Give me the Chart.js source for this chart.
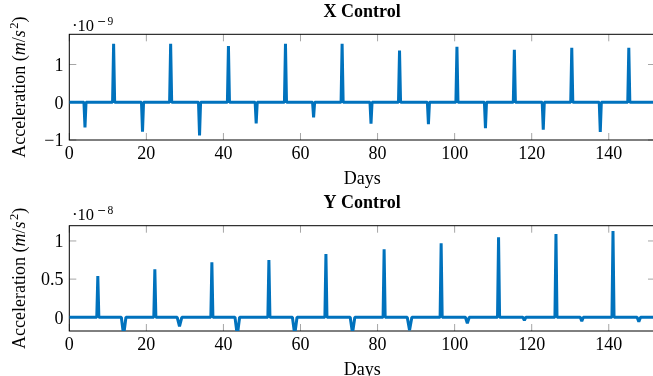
<!DOCTYPE html>
<html>
<head>
<meta charset="utf-8">
<script src="https://cdn.jsdelivr.net/npm/chart.js@4/dist/chart.umd.min.js"></script>
<style>
  html, body { margin: 0; padding: 0; background: #fff; overflow: hidden; }
  #wrap { position: relative; width: 653px; height: 376px; overflow: hidden; background: #fff; }
  canvas { position: absolute; left: 0; }
  #c1 { top: 0; }
  #c2 { top: 188px; }
</style>
</head>
<body>
<div id="wrap">
  <canvas id="c1" width="660" height="188"></canvas>
  <canvas id="c2" width="660" height="188"></canvas>
</div>
<script>
// ---- Data ----
// X control acceleration, units of 1e-9 m/s^2
const daysX = [0,
  3.8, 4.07, 4.34,
  11.23, 11.5, 11.77,
  18.73, 19.0, 19.27,
  26.03, 26.3, 26.57,
  33.53, 33.8, 34.07,
  41.03, 41.3, 41.57,
  48.23, 48.5, 48.77,
  55.83, 56.1, 56.37,
  63.13, 63.4, 63.67,
  70.53, 70.8, 71.07,
  78.03, 78.3, 78.57,
  85.43, 85.7, 85.97,
  92.93, 93.2, 93.47,
  100.33, 100.6, 100.87,
  107.73, 108.0, 108.27,
  115.23, 115.5, 115.77,
  122.73, 123.0, 123.27,
  130.13, 130.4, 130.67,
  137.53, 137.8, 138.07,
  144.93, 145.2, 145.47,
  152];
const accelX = [0,
  0, -0.67, 0,
  0, 1.55, 0,
  0, -0.78, 0,
  0, 1.55, 0,
  0, -0.88, 0,
  0, 1.49, 0,
  0, -0.56, 0,
  0, 1.55, 0,
  0, -0.40, 0,
  0, 1.55, 0,
  0, -0.57, 0,
  0, 1.37, 0,
  0, -0.58, 0,
  0, 1.47, 0,
  0, -0.69, 0,
  0, 1.39, 0,
  0, -0.73, 0,
  0, 1.44, 0,
  0, -0.79, 0,
  0, 1.44, 0,
  0];

// Y control acceleration, units of 1e-8 m/s^2
const daysY = [0,
  7.13, 7.4, 7.67,
  13.5, 14.1, 14.7,
  21.93, 22.2, 22.47,
  28.0, 28.6, 29.2,
  36.73, 37.0, 37.27,
  43.0, 43.6, 44.2,
  51.53, 51.8, 52.07,
  57.9, 58.5, 59.1,
  66.33, 66.6, 66.87,
  72.9, 73.5, 74.1,
  81.43, 81.7, 81.97,
  87.7, 88.3, 88.9,
  96.23, 96.5, 96.77,
  102.8, 103.3, 103.8,
  111.13, 111.4, 111.67,
  117.7, 118.1, 118.5,
  126.03, 126.3, 126.57,
  132.6, 133.0, 133.4,
  140.83, 141.1, 141.37,
  147.35, 147.8, 148.25,
  152];
const accelY = [0,
  0, 0.54, 0,
  0, -0.24, 0,
  0, 0.63, 0,
  0, -0.12, 0,
  0, 0.72, 0,
  0, -0.24, 0,
  0, 0.75, 0,
  0, -0.23, 0,
  0, 0.83, 0,
  0, -0.21, 0,
  0, 0.89, 0,
  0, -0.17, 0,
  0, 0.97, 0,
  0, -0.08, 0,
  0, 1.05, 0,
  0, -0.04, 0,
  0, 1.09, 0,
  0, -0.05, 0,
  0, 1.13, 0,
  0, -0.06, 0,
  0];

const dayTicks = [0, 20, 40, 60, 80, 100, 120, 140];
const accelXTicks = [-1, 0, 1];
const accelYTicks = [0, 0.5, 1];
const titles = ['X Control', 'Y Control'];
const exponentDigits = ['9', '8'];

// ---- Drawing helpers ----
const SERIF = '"Liberation Serif", "Times New Roman", serif';
const BLUE = 'rgb(0,114,189)';

function fmt(v) {
  const s = String(v);
  return v < 0 ? '\u2212' + s.slice(1) : s;
}

const pgfAxes = {
  id: 'pgfAxes',
  beforeDatasetsDraw(chart) {
    const { ctx, chartArea: a, scales: { x, y } } = chart;
    ctx.save();
    ctx.strokeStyle = '#a6a6a6';
    ctx.lineWidth = 1;
    ctx.beginPath();
    const tl = 7;
    x.ticks.forEach(t => {
      const px = x.getPixelForValue(t.value);
      ctx.moveTo(px, a.top); ctx.lineTo(px, a.top + tl);
      ctx.moveTo(px, a.bottom); ctx.lineTo(px, a.bottom - tl);
    });
    y.ticks.forEach(t => {
      const py = y.getPixelForValue(t.value);
      ctx.moveTo(a.left, py); ctx.lineTo(a.left + tl, py);
      ctx.moveTo(a.right, py); ctx.lineTo(a.right - tl, py);
    });
    ctx.stroke();
    ctx.strokeStyle = '#000';
    ctx.lineWidth = 1;
    ctx.strokeRect(a.left, a.top, a.right - a.left, a.bottom - a.top);
    ctx.restore();
  },
  afterDraw(chart, args, opts) {
    const { ctx, chartArea: a, scales: { x, y } } = chart;
    ctx.save();
    ctx.fillStyle = '#000';
    ctx.font = '18px ' + SERIF;
    // x tick labels
    ctx.textAlign = 'center';
    ctx.textBaseline = 'alphabetic';
    x.ticks.forEach(t => {
      ctx.fillText(fmt(t.value), x.getPixelForValue(t.value), a.bottom + 19.3);
    });
    // y tick labels
    ctx.textAlign = 'right';
    y.ticks.forEach(t => {
      ctx.fillText(fmt(t.value), a.left - 5.8, y.getPixelForValue(t.value) + 6.3);
    });
    // x axis title, centred on the plot
    const cx = (a.left + a.right) / 2;
    ctx.textAlign = 'center';
    ctx.fillText('Days', cx, a.bottom + 43.5);
    // title
    ctx.font = 'bold 18px ' + SERIF;
    ctx.fillText(opts.title, cx, opts.titleY);
    // exponent label  ·10^-n
    ctx.textAlign = 'left';
    ctx.font = '17px ' + SERIF;
    ctx.fillText('\u00b7', 72, opts.expY);
    ctx.font = '16.5px ' + SERIF;
    ctx.fillText('10', 77.5, opts.expY);
    ctx.font = '11px "DejaVu Serif", ' + SERIF;
    ctx.fillText('\u2212', 97, opts.expY - 6);
    ctx.font = '11.5px ' + SERIF;
    ctx.fillText(opts.exp, 107.5, opts.expY - 6);
    // rotated y axis title with italic m and s
    const segs = [
      { t: 'Acceleration (', f: '18px ' + SERIF, dy: 0 },
      { t: 'm', f: 'italic 18px ' + SERIF, dy: 0 },
      { t: '/', f: '18px ' + SERIF, dy: 0 },
      { t: 's', f: 'italic 18px ' + SERIF, dy: 0 },
      { t: '2', f: '12.5px ' + SERIF, dy: -7.5 },
      { t: ')', f: '18px ' + SERIF, dy: 0 }
    ];
    let total = 0;
    segs.forEach(s => { ctx.font = s.f; s.w = ctx.measureText(s.t).width; total += s.w; });
    total += 1.5;
    ctx.translate(25, (a.top + a.bottom) / 2);
    ctx.rotate(-Math.PI / 2);
    let px = -total / 2;
    segs.forEach((s, i) => {
      ctx.font = s.f;
      ctx.fillText(s.t, px, s.dy);
      px += s.w + (i === 3 ? 1.5 : 0);
    });
    ctx.restore();
  }
};

function makeChart(id, xs, ys, yMin, yMax, yTicks, padTop, xAxisH, title, titleY, exp, expY) {
  const pts = xs.map((d, i) => ({ x: d, y: ys[i] }));
  return new Chart(document.getElementById(id), {
    type: 'line',
    data: {
      datasets: [{
        data: pts,
        borderColor: BLUE,
        borderWidth: 3,
        pointRadius: 0,
        tension: 0,
        fill: false,
        borderJoinStyle: 'bevel',
        borderCapStyle: 'butt',
        clip: 0
      }]
    },
    options: {
      responsive: false,
      maintainAspectRatio: false,
      devicePixelRatio: 1,
      animation: false,
      events: [],
      layout: { padding: { left: 0, right: 5, top: padTop, bottom: 0 } },
      plugins: {
        legend: { display: false },
        tooltip: { enabled: false },
        title: { display: false },
        pgfAxes: { title: title, titleY: titleY, exp: exp, expY: expY }
      },
      scales: {
        x: {
          type: 'linear',
          min: 0, max: 152,
          grid: { display: false },
          border: { display: false },
          ticks: { display: false },
          afterBuildTicks: s => { s.ticks = dayTicks.map(v => ({ value: v })); },
          afterFit: s => { s.height = xAxisH; }
        },
        y: {
          type: 'linear',
          min: yMin, max: yMax,
          grid: { display: false },
          border: { display: false },
          ticks: { display: false },
          afterBuildTicks: s => { s.ticks = yTicks.map(v => ({ value: v })); },
          afterFit: s => { s.width = 69.3; }
        }
      }
    },
    plugins: [pgfAxes]
  });
}

makeChart('c1', daysX, accelX, -1, 1.8, accelXTicks, 34.3, 48, titles[0], 17.4, exponentDigits[0], 30.7);
makeChart('c2', daysY, accelY, -0.18, 1.2, accelYTicks, 37.7, 45, titles[1], 19.7, exponentDigits[1], 32);
</script>
</body>
</html>
